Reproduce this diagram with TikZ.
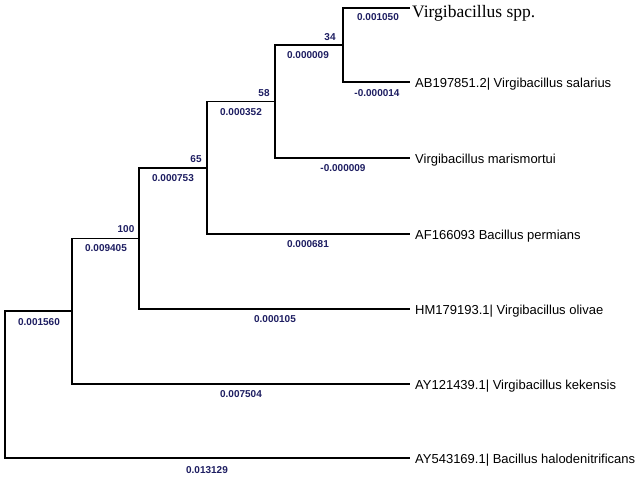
\documentclass[tikz,border=0pt]{standalone}
\usepackage{fontspec}
\setmainfont{Liberation Sans}
\newfontfamily\serifleaf{Liberation Serif}
\definecolor{numblue}{HTML}{1E1E62}
\begin{document}
\begin{tikzpicture}[x=1pt,y=-1pt,
  branch/.style={line width=1.3pt, black},
  leaflabel/.style={anchor=base west, inner sep=0pt, font=\fontsize{13}{15}\selectfont, text=black},
  blen/.style={inner sep=0pt, font=\bfseries\fontsize{10}{12}\selectfont, text=numblue},
  boot/.style={inner sep=0pt, font=\bfseries\fontsize{10}{12}\selectfont, text=numblue}]
\fill[white] (0,0) rectangle (640,480);
\useasboundingbox (0,0) rectangle (640,480);
% internal nodes (at the middle of their vertical bars)
\coordinate (n34) at (343,45);
\coordinate (n58) at (275,101.5);
\coordinate (n65) at (207,168);
\coordinate (n100) at (139,238.5);
\coordinate (nX) at (72,311);
\coordinate (root) at (5,384.5);
% leaf ends
\coordinate (e1) at (410,8);
\coordinate (e2) at (410,82);
\coordinate (e3) at (410,158);
\coordinate (e4) at (410,234);
\coordinate (e5) at (410,309);
\coordinate (e6) at (410,384);
\coordinate (e7) at (410,458);
% leaf labels
\node[anchor=base west, inner sep=0pt, font=\serifleaf\fontsize{17.5}{20}\selectfont] (t1) at ([xshift=2pt,yshift=-9pt]e1) {Virgibacillus spp.};
\node[leaflabel] (t2) at ([xshift=5pt,yshift=-5.5pt]e2) {AB197851.2| Virgibacillus salarius};
\node[leaflabel] (t3) at ([xshift=5pt,yshift=-5pt]e3) {Virgibacillus marismortui};
\node[leaflabel] (t4) at ([xshift=5pt,yshift=-5pt]e4) {AF166093 Bacillus permians};
\node[leaflabel] (t5) at ([xshift=5pt,yshift=-5pt]e5) {HM179193.1| Virgibacillus olivae};
\node[leaflabel] (t6) at ([xshift=5pt,yshift=-5pt]e6) {AY121439.1| Virgibacillus kekensis};
\node[leaflabel] (t7) at ([xshift=5pt,yshift=-5pt]e7) {AY543169.1| Bacillus halodenitrificans};
% branches
\draw[branch] (n34) |- (e1);
\draw[branch] (n34) |- (e2);
\draw[branch] (n58) |- (n34);
\draw[branch] (n58) |- (e3);
\draw[branch] (n65) |- (n58);
\draw[branch] (n65) |- (e4);
\draw[branch] (n100) |- (n65);
\draw[branch] (n100) |- (e5);
\draw[branch] (nX) |- (n100);
\draw[branch] (nX) |- (e6);
\draw[branch] (root) |- (nX);
\draw[branch] (root) |- (e7);
% bootstrap values
\node[boot] (b34) at (330,37) {34};
\node[boot] (b58) at (264,93) {58};
\node[boot] (b65) at (196,159) {65};
\node[boot] (b100) at (126,229) {100};
% branch lengths
\node[blen] (l1) at (378,17) {0.001050};
\node[blen] (l2) at (377,93) {-0.000014};
\node[blen] (l3) at (308,55) {0.000009};
\node[blen] (l4) at (343,168.5) {-0.000009};
\node[blen] (l5) at (241,112) {0.000352};
\node[blen] (l6) at (308,244) {0.000681};
\node[blen] (l7) at (173,178) {0.000753};
\node[blen] (l8) at (275,319) {0.000105};
\node[blen] (l9) at (106,248) {0.009405};
\node[blen] (l10) at (241,394) {0.007504};
\node[blen] (l11) at (39,322) {0.001560};
\node[blen] (l12) at (207,470) {0.013129};
\end{tikzpicture}
\end{document}
